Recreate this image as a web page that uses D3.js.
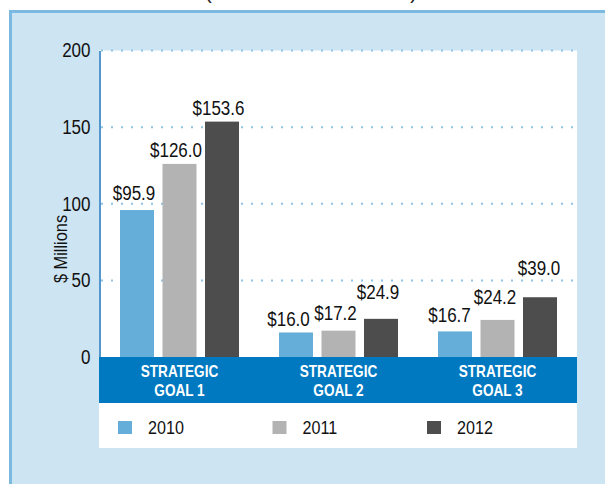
<!DOCTYPE html>
<html>
<head>
<meta charset="utf-8">
<script src="https://cdn.jsdelivr.net/npm/d3@7"></script>
<style>
  body { margin: 0; background: #fff; }
  svg { display: block; font-family: "Liberation Sans", Arial, sans-serif; }
</style>
</head>
<body>
<svg id="chart"></svg>
<script>
// Chart data
const goals = ["STRATEGIC GOAL 1", "STRATEGIC GOAL 2", "STRATEGIC GOAL 3"];
const years = ["2010", "2011", "2012"];
const values = [
  [95.9, 126.0, 153.6], // goal 1
  [16.0, 17.2, 24.9],   // goal 2
  [16.7, 24.2, 39.0]    // goal 3
];
const yTicks = [0, 50, 100, 150, 200];

// hand placement of the value labels in the original: [dx, lift above bar top]
const labelNudge = [
  [[-3, 10], [-3.5, 7], [-3.5, 7]],
  [[-7.5, 6], [-3, 11], [-3, 20]],
  [[-5.5, 9], [-2.5, 16], [-1, 22]]
];

const colors = d3.scaleOrdinal().domain(years).range(["#65aed9", "#b3b3b3", "#4d4d4d"]);

const width = 605;
const height = 484;
const svg = d3.select("#chart").attr("width", width).attr("height", height);

// no narrow font installed, so squeeze the glyphs horizontally
function condense(sel, k) {
  sel.each(function () {
    const w = this.getComputedTextLength();
    d3.select(this).attr("textLength", w * k).attr("lengthAdjust", "spacingAndGlyphs");
  });
}

// outer light blue panel
svg.append("rect")
  .attr("x", 10.5).attr("y", 11.5)
  .attr("width", width).attr("height", height)
  .attr("fill", "#cde4f3")
  .attr("stroke", "#7cb9e1")
  .attr("stroke-width", 3);

// title, mostly cut off at the top in the original
svg.append("text")
  .attr("x", 205).attr("y", -1)
  .attr("textLength", 212)
  .attr("font-size", 20)
  .attr("fill", "#222")
  .text("(IN MILLIONS OF DOLLARS)");

const plotLeft = 100, plotRight = 577;
const y = d3.scaleLinear().domain([0, 200]).range([357, 50.5]);

const x0 = d3.scaleBand().domain(goals).range([plotLeft, plotRight]).padding(0);
const x1 = d3.scaleBand().domain(years).range([20, 139]).paddingInner(0.2).paddingOuter(0);

// white plot + legend area
svg.append("rect")
  .attr("x", plotLeft - 1).attr("y", y(200))
  .attr("width", plotRight - plotLeft + 1).attr("height", 448 - y(200))
  .attr("fill", "#fff");

// dotted gridlines
svg.append("g")
  .selectAll("line")
  .data(yTicks.filter(d => d > 0))
  .join("line")
  .attr("x1", plotLeft + 1).attr("x2", plotRight - 2)
  .attr("y1", d => y(d)).attr("y2", d => y(d))
  .attr("stroke", "#8cc3e6")
  .attr("stroke-width", 2)
  .attr("stroke-dasharray", "2 8");

// y axis
const yAxis = d3.axisLeft(y).tickValues(yTicks).tickSize(0).tickPadding(9);
const gy = svg.append("g").attr("transform", `translate(${plotLeft - 0.5},0)`).call(yAxis);
gy.select(".domain").attr("stroke", "#1b75bc").attr("stroke-width", 1.5);
gy.selectAll("text")
  .attr("font-size", 20)
  .attr("fill", "#111")
  .attr("font-family", "inherit")
  .call(condense, 0.85);

svg.append("text")
  .attr("transform", "translate(67,249) rotate(-90)")
  .attr("text-anchor", "middle")
  .attr("font-size", 19)
  .attr("fill", "#111")
  .text("$ Millions")
  .call(condense, 0.86);

// bars
const groups = svg.append("g")
  .selectAll("g")
  .data(goals)
  .join("g")
  .attr("transform", d => `translate(${x0(d)},0)`);

const cells = (g, gi) => years.map((yr, i) => ({ yr, v: values[gi][i], gi, i }));

groups.selectAll("rect")
  .data(cells)
  .join("rect")
  .attr("x", d => x1(d.yr))
  .attr("y", d => y(d.v))
  .attr("width", x1.bandwidth())
  .attr("height", d => y(0) - y(d.v))
  .attr("fill", d => colors(d.yr));

groups.selectAll("text.val")
  .data(cells)
  .join("text")
  .attr("class", "val")
  .attr("x", d => x1(d.yr) + x1.bandwidth() / 2 + labelNudge[d.gi][d.i][0])
  .attr("y", d => y(d.v) - labelNudge[d.gi][d.i][1])
  .attr("text-anchor", "middle")
  .attr("font-size", 20)
  .attr("fill", "#111")
  .text(d => "$" + d3.format(".1f")(d.v))
  .call(condense, 0.85);

// category band
svg.append("rect")
  .attr("x", plotLeft - 1).attr("y", y(0))
  .attr("width", plotRight - plotLeft + 1).attr("height", 403 - y(0))
  .attr("fill", "#0079c1");

const cat = svg.append("g")
  .selectAll("text")
  .data(goals)
  .join("text")
  .attr("text-anchor", "middle")
  .attr("font-size", 17)
  .attr("font-weight", "bold")
  .attr("fill", "#fff");

cat.append("tspan").attr("x", d => x0(d) + x0.bandwidth() / 2).attr("y", 377)
  .text(d => d.split(" ")[0]);
cat.append("tspan").attr("x", d => x0(d) + x0.bandwidth() / 2).attr("y", 396)
  .text(d => d.split(" ").slice(1).join(" "));
cat.selectAll("tspan").call(condense, 0.8);

// legend
const legendX = d3.scalePoint().domain(years).range([118, 427]);
const legend = svg.append("g")
  .selectAll("g")
  .data(years)
  .join("g")
  .attr("transform", d => `translate(${legendX(d)},421)`);

legend.append("rect")
  .attr("width", 14).attr("height", 13)
  .attr("fill", d => colors(d));

legend.append("text")
  .attr("x", 30).attr("y", 13)
  .attr("font-size", 19)
  .attr("fill", "#111")
  .text(d => d)
  .call(condense, 0.85);
</script>
</body>
</html>
